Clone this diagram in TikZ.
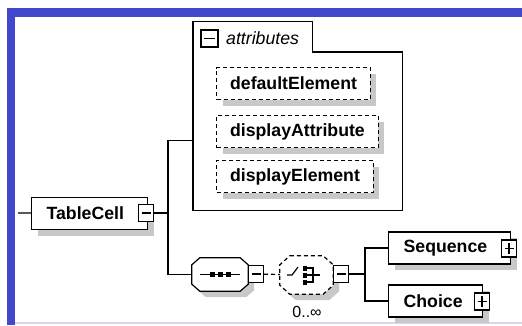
\documentclass[tikz,border=0pt]{standalone}
\usepackage{fontspec}
\setmainfont{Liberation Sans}
\usepackage{xcolor}
\definecolor{borderblue}{RGB}{66, 72, 204}
\definecolor{rim}{RGB}{214, 214, 244}
\definecolor{shadowgray}{RGB}{200, 200, 200}
\usepackage{tikz}
\usetikzlibrary{shadows,calc,positioning}

\newcommand{\elemfont}{\fontsize{17.7}{20}\selectfont\bfseries}

\begin{document}
\begin{tikzpicture}[x=1pt, y=-1pt,
  wire/.style={line width=1.2pt},
  boxshadow/.style={general shadow={fill=shadowgray, shadow xshift=6pt, shadow yshift=-6pt}},
  elem/.style={wire, draw, fill=white, boxshadow, minimum height=32pt, inner xsep=15pt, inner ysep=0pt, align=left, font=\elemfont, anchor=west},
  attrib/.style={elem, inner xsep=13.5pt, dash pattern=on 4pt off 3pt},
  expander/.style={wire, draw, fill=white, minimum width=15pt, minimum height=17pt, inner sep=0pt},
  collapse/.style={expander, path picture={\draw[wire] ([xshift=3pt]path picture bounding box.west) -- ([xshift=-3pt]path picture bounding box.east);}},
  expand/.style={expander, path picture={
    \draw[wire] ([xshift=3pt]path picture bounding box.west) -- ([xshift=-3pt]path picture bounding box.east);
    \draw[wire] ([yshift=3pt]path picture bounding box.south) -- ([yshift=-3pt]path picture bounding box.north);}},
  compositor/.style={inner sep=0pt},
  octagon/.style={wire, fill=white, boxshadow}
]
\useasboundingbox (0,0) rectangle (522,325);
\fill[borderblue] (7,8) rectangle (522,17);
\fill[borderblue] (7,8) rectangle (15,325);
\draw[rim, line width=1.5pt] (15,323) -- (522,323);

\node[elem, text width=86pt] (tablecell) at (31,213.5) {TableCell};
\node[collapse] (tablecellx) at (146,213) {};
\coordinate (lead) at (18,213);
\coordinate (fork) at (168,213);
\draw[wire] (lead) -- (tablecell);
\draw[wire] (tablecellx) -- (fork);

\node[minimum width=209pt, minimum height=158pt, inner sep=0pt, anchor=north west] (attrs) at (193,52) {};
\node[minimum width=119pt, minimum height=30pt, inner sep=0pt, anchor=south west] (attrstab) at (attrs.north west) {};
\draw[wire] (attrs.south west) -- (attrstab.north west) -- (attrstab.north east) -- (attrstab.south east) -- (attrs.north east) -- (attrs.south east) -- cycle;
\node[collapse, minimum width=17pt] (attrsx) at (209.5,38.5) {};
\node[font=\fontsize{17.7}{20}\selectfont\itshape, anchor=west, inner sep=0pt] (attrslabel) at (226,38) {attributes};
\node[attrib] (defaultel) at (216,83.5) {defaultElement};
\node[attrib] (displayattr) at (216,131.5) {displayAttribute};
\node[attrib] (displayel) at (216,176.5) {displayElement};
\draw[wire] (fork) |- ([yshift=-9pt]attrs.west);

\node[compositor, minimum width=56pt, minimum height=33pt] (seq) at (220,274.5) {};
\draw[octagon] ($(seq.north west)+(8,0)$) -- ($(seq.north east)+(-8,0)$) -- ($(seq.north east)+(0,7)$)
  -- ($(seq.south east)+(0,-7)$) -- ($(seq.south east)+(-8,0)$) -- ($(seq.south west)+(8,0)$)
  -- ($(seq.south west)+(0,-7)$) -- ($(seq.north west)+(0,7)$) -- cycle;
\node[collapse] (seqx) at (256,274) {};
\draw[wire] (fork) |- (seq);
\draw[wire] ($(seq.center)+(-20,0)$) -- ($(seq.center)+(20,0)$);
\foreach \d in {-8,0,8}
  \fill ($(seq.center)+(\d,0)$) +(-2.5,-2.5) rectangle +(2.5,2.5);

\node[compositor, minimum width=53pt, minimum height=38pt] (choice) at (306.5,275) {};
\draw[octagon, dash pattern=on 4pt off 3pt] ($(choice.north west)+(10,0)$) -- ($(choice.north east)+(-10,0)$) -- ($(choice.north east)+(0,9)$)
  -- ($(choice.south east)+(0,-9)$) -- ($(choice.south east)+(-10,0)$) -- ($(choice.south west)+(10,0)$)
  -- ($(choice.south west)+(0,-9)$) -- ($(choice.north west)+(0,9)$) -- cycle;
\node[collapse] (choicex) at (341,274) {};
\draw[wire, dash pattern=on 4pt off 3pt] (seqx) -- (choice);
\draw[wire] ($(choice.center)+(-19.5,0)$) -- +(5,0) -- +(11,-8);
\foreach \d in {-7,0,7}
  \fill ($(choice.center)+(-1.5,\d)$) +(-2,-2.5) rectangle +(2,2.5);
\draw[wire] ($(choice.center)+(0.5,-7)$) -| ($(choice.center)+(6.5,7)$) -- ($(choice.center)+(0.5,7)$);
\draw[wire] ($(choice.center)+(0.5,0)$) -- +(13,0);
\node[font=\fontsize{16}{18}\selectfont, inner sep=0pt] (card) at (307,312) {0..∞};

\coordinate (fork2) at (365,274);
\draw[wire] (choicex) -- (fork2);
\node[elem, text width=92pt] (sequence) at (388,248) {Sequence};
\node[expand] (sequencex) at (509,248.5) {};
\node[elem, text width=64pt] (choiceel) at (388,301) {Choice};
\node[expand] (choiceelx) at (482,301.5) {};
\draw[wire] (fork2) |- (sequence);
\draw[wire] (fork2) |- (choiceel);
\end{tikzpicture}
\end{document}
